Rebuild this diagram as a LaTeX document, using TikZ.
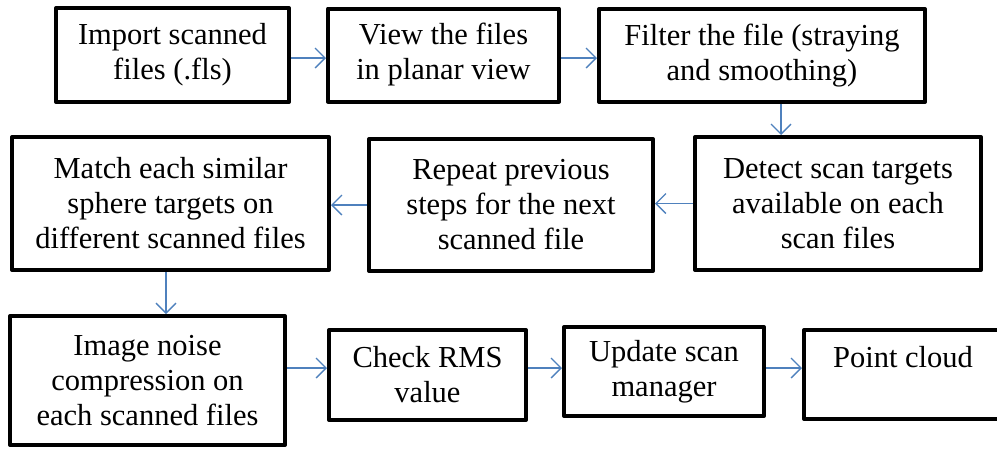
\documentclass[tikz,border=0pt]{standalone}
\usepackage{fontspec}
\setmainfont{Liberation Serif}
\usetikzlibrary{arrows.meta}
\definecolor{arrblue}{RGB}{79,129,189}
\begin{document}
\begin{tikzpicture}[x=1pt,y=-1pt,
 box/.style={draw, line width=4pt, inner sep=0pt, align=center, font=\fontsize{30.5}{35}\selectfont, line join=round},
 arr/.style={draw=arrblue, line width=1.2pt, -{Straight Barb[length=10pt,width=20pt,line width=1.3pt]}}]
\useasboundingbox (0,0) rectangle (997,451);
\node[box, minimum width=233pt, minimum height=94pt] (imp) at (172.5,55) {Import scanned\\files (.fls)};
\node[box, minimum width=231pt, minimum height=93pt] (view) at (443.5,55) {View the files\\in planar view};
\node[box, minimum width=326pt, minimum height=93pt] (filt) at (762,55.5) {Filter the file (straying\\and smoothing)};
\node[box, minimum width=286pt, minimum height=133pt] (det) at (838,203.5) {Detect scan targets\\available on each\\scan files};
\node[box, minimum width=284pt, minimum height=132pt] (rep) at (511,205) {Repeat previous\\steps for the next\\scanned file};
\node[box, minimum width=317pt, minimum height=133pt] (mat) at (170.5,203.5) {Match each similar\\sphere targets on\\different scanned files};
\node[box, minimum width=275pt, minimum height=129pt] (img) at (147.5,380.5) {Image noise\\compression on\\each scanned files};
\node[box, minimum width=197pt, minimum height=90pt] (chk) at (427.5,375) {Check RMS\\value};
\node[box, minimum width=200pt, minimum height=89pt] (upd) at (664,371.5) {Update scan\\manager};
\node[box, minimum width=198pt, minimum height=89pt] (pt) at (903,374.5) {Point cloud\\\mbox{}};
\draw[arr] ([yshift=-3pt]imp.east) -- ([yshift=-3pt]view.west);
\draw[arr] ([yshift=-3pt]view.east) -- ([yshift=-3pt]view.east -| filt.west);
\draw[arr] ([xshift=19pt]filt.south) -- ([xshift=19pt]filt.south |- det.north);
\draw[arr] (det.west) -- (det.west -| rep.east);
\draw[arr] (rep.west) -- (rep.west -| mat.east);
\draw[arr] ([xshift=-4.5pt]mat.south) -- ([xshift=-4.5pt]mat.south |- img.north);
\draw[arr] ([yshift=7pt]chk.west -| img.east) -- ([yshift=7pt]chk.west);
\draw[arr] ([yshift=7pt]chk.east) -- ([yshift=7pt]chk.east -| upd.west);
\draw[arr] ([yshift=7pt]chk.east -| upd.east) -- ([yshift=7pt]chk.east -| pt.west);
\end{tikzpicture}
\end{document}
